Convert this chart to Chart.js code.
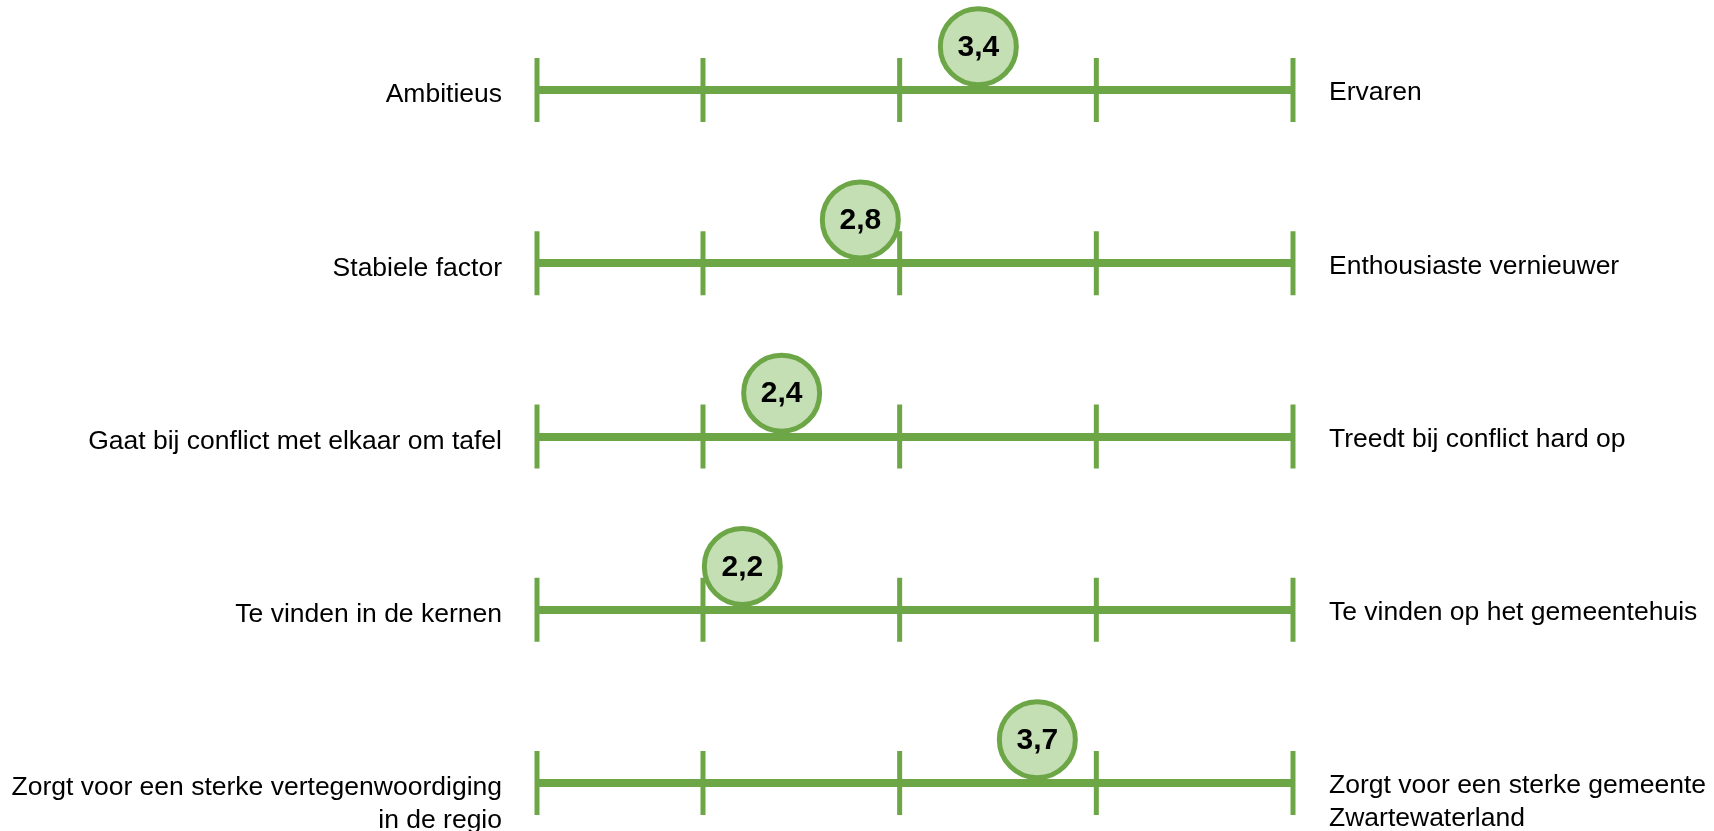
<!DOCTYPE html>
<html>
<head>
<meta charset="utf-8">
<style>html,body{margin:0;padding:0;background:#fff;}canvas{display:block;}</style>
<script src="https://cdn.jsdelivr.net/npm/chart.js@4/dist/chart.umd.min.js"></script>
</head>
<body>
<canvas id="c" width="1714" height="831"></canvas>
<script>
// ---- data ----
const leftLabels = [
  'Ambitieus',
  'Stabiele factor',
  'Gaat bij conflict met elkaar om tafel',
  'Te vinden in de kernen',
  ['Zorgt voor een sterke vertegenwoordiging', 'in de regio']
];
const rightLabels = [
  'Ervaren',
  'Enthousiaste vernieuwer',
  'Treedt bij conflict hard op',
  'Te vinden op het gemeentehuis',
  ['Zorgt voor een sterke gemeente', 'Zwartewaterland']
];
const scores = [3.4, 2.8, 2.4, 2.2, 3.7];
const scaleTicks = [1, 2, 3, 4, 5];

// ---- layout / style ----
const GREEN = '#6ca646';
const FILL = '#c5dfb5';
const FONT = '"Liberation Sans", Arial, sans-serif';
const X_MIN = 1.156, X_MAX = 5;
const Y_MIN = -0.5195, Y_MAX = 4.277;
const BUBBLE_SHIFT = 0.25;

const rows = leftLabels.map((_, i) => i);
const tickMarks = [];
rows.forEach(r => scaleTicks.forEach(t => tickMarks.push({ x: Math.max(t, X_MIN), y: r })));
const bubbles = scores.map((v, i) => ({ x: v, y: i }));

const valueLabels = {
  id: 'valueLabels',
  afterDatasetsDraw(chart) {
    const meta = chart.getDatasetMeta(0);
    const ctx = chart.ctx;
    ctx.save();
    ctx.font = 'bold 30px ' + FONT;
    ctx.fillStyle = '#000';
    ctx.textAlign = 'center';
    ctx.textBaseline = 'middle';
    meta.data.forEach((el, i) => {
      ctx.fillText(scores[i].toFixed(1).replace('.', ','), el.x, el.y + 1);
    });
    ctx.restore();
  }
};

const rowTicks = scale => { scale.ticks = rows.map(v => ({ value: v })); };
const fmt = arr => value => {
  const l = arr[value];
  return Array.isArray(l) ? ['', ...l] : l;
};
const fitTo = w => s => { s.width = w; s.paddingTop = 0; s.paddingBottom = 0; };
const labelFont = { family: FONT, size: 26.5, lineHeight: 1.24 };

new Chart(document.getElementById('c'), {
  type: 'scatter',
  data: {
    datasets: [
      {
        data: bubbles,
        yAxisID: 'yB',
        pointRadius: 38,
        pointHoverRadius: 38,
        pointBackgroundColor: FILL,
        pointBorderColor: GREEN,
        pointBorderWidth: 5,
        pointHoverBorderWidth: 5,
        showLine: false,
        clip: false
      },
      {
        data: tickMarks,
        yAxisID: 'y',
        pointStyle: 'line',
        rotation: 90,
        pointRadius: 32,
        pointHoverRadius: 32,
        pointBorderColor: GREEN,
        pointBorderWidth: 5,
        showLine: false,
        clip: false
      }
    ]
  },
  options: {
    responsive: false,
    animation: false,
    events: [],
    layout: { padding: 0, autoPadding: false },
    plugins: { legend: { display: false }, tooltip: { enabled: false } },
    scales: {
      x: { type: 'linear', min: X_MIN, max: X_MAX, display: false },
      y: {
        type: 'linear', position: 'left', reverse: true,
        min: Y_MIN, max: Y_MAX,
        afterBuildTicks: rowTicks,
        afterFit: fitTo(537),
        border: { display: false },
        grid: { color: GREEN, lineWidth: 8, drawTicks: false },
        ticks: { callback: fmt(leftLabels), padding: 35, labelOffset: 5, color: '#000', font: labelFont, autoSkip: false }
      },
      yR: {
        type: 'linear', position: 'right', reverse: true,
        min: Y_MIN, max: Y_MAX,
        afterBuildTicks: rowTicks,
        afterFit: fitTo(421),
        border: { display: false },
        grid: { display: false, drawTicks: false },
        ticks: { callback: fmt(rightLabels), padding: 36, labelOffset: 3, color: '#000', font: labelFont, autoSkip: false }
      },
      yB: {
        type: 'linear', display: false, reverse: true,
        min: Y_MIN + BUBBLE_SHIFT, max: Y_MAX + BUBBLE_SHIFT
      }
    }
  },
  plugins: [valueLabels]
});
</script>
</body>
</html>
